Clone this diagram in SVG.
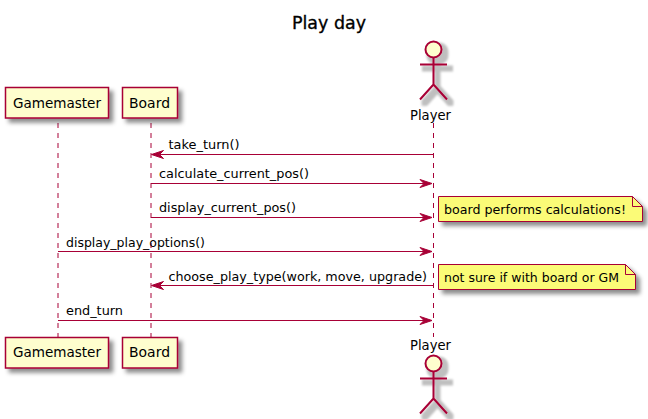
<svg xmlns="http://www.w3.org/2000/svg" width="648" height="419" viewBox="0 0 648 419">
<style>
text{font-family:"DejaVu Sans",sans-serif;font-size:13px;fill:#000}
.title{font-size:18px;stroke:#000;stroke-width:.35}
.part{font-size:14px}
.life{stroke:#A80036;stroke-width:1;stroke-dasharray:5 5;fill:none}
.box{fill:#FEFECE;stroke:#A80036;stroke-width:1.5}
.note{fill:#FBFB77;stroke:#A80036;stroke-width:1}
.actor{fill:none;stroke:#A80036;stroke-width:2}
.head{fill:#FEFECE;stroke:#A80036;stroke-width:2}
.msg{stroke:#A80036;stroke-width:1;fill:none}
.arrow{fill:#A80036;stroke:#A80036;stroke-width:1}
.sh{filter:url(#shadow)}
.sha{filter:url(#shadow-a)}
</style>
<defs>
<filter id="shadow" x="-30%" y="-30%" width="170%" height="170%">
<feGaussianBlur in="SourceAlpha" stdDeviation="2"/>
<feColorMatrix type="matrix" values="0 0 0 0 0 0 0 0 0 0 0 0 0 0 0 0 0 0 0.45 0"/>
<feOffset dx="4" dy="4" result="s"/>
<feMerge><feMergeNode in="s"/><feMergeNode in="SourceGraphic"/></feMerge>
</filter>
<filter id="shadow-a" x="-50%" y="-30%" width="220%" height="170%">
<feMorphology in="SourceAlpha" operator="dilate" radius="1.500"/>
<feGaussianBlur stdDeviation="1.200"/>
<feColorMatrix type="matrix" values="0 0 0 0 0 0 0 0 0 0 0 0 0 0 0 0 0 0 0.25 0"/>
<feOffset dx="4" dy="4" result="s"/>
<feMerge><feMergeNode in="s"/><feMergeNode in="SourceGraphic"/></feMerge>
</filter>
<polygon id="ah-r" points="-12,-4 0,0 -12,4 -8,0" class="arrow"/>
<polygon id="ah-l" points="12,-4 0,0 12,4 8,0" class="arrow"/>
<g id="stick"><circle class="head" cx="0" cy="0" r="8"/><path class="actor" d="M0 8V35M-13.500 15H13.500M0 35L-13.500 50M0 35L13.500 50"/></g>
</defs>
<text class="title" x="292" y="29" textLength="74" lengthAdjust="spacingAndGlyphs">Play day</text>
<g id="lifelines" class="lifelines">
<line class="life" x1="58" y1="123" x2="58" y2="337"/>
<line class="life" x1="151" y1="123" x2="151" y2="337"/>
<line class="life" x1="433.500" y1="123" x2="433.500" y2="337"/>
</g>
<g id="gamemaster-top"><rect class="box sh" x="5.500" y="87.500" width="103" height="30.500"/><text class="part" x="13" y="108" textLength="88" lengthAdjust="spacingAndGlyphs">Gamemaster</text></g>
<g id="board-top"><rect class="box sh" x="122.500" y="87.500" width="55" height="30.500"/><text class="part" x="129" y="108" textLength="41" lengthAdjust="spacingAndGlyphs">Board</text></g>
<g id="player-top"><g class="sha"><use href="#stick" x="433.500" y="49.500"/></g><text class="part" x="410" y="120" textLength="41" lengthAdjust="spacingAndGlyphs">Player</text></g>
<g id="gamemaster-bottom"><rect class="box sh" x="5.500" y="337.500" width="103" height="30.500"/><text class="part" x="13" y="357" textLength="88" lengthAdjust="spacingAndGlyphs">Gamemaster</text></g>
<g id="board-bottom"><rect class="box sh" x="122.500" y="337.500" width="55" height="30.500"/><text class="part" x="129" y="357" textLength="41" lengthAdjust="spacingAndGlyphs">Board</text></g>
<g id="player-bottom"><text class="part" x="410" y="350" textLength="41" lengthAdjust="spacingAndGlyphs">Player</text><g class="sha"><use href="#stick" x="433.500" y="363.500"/></g></g>
<g id="connectors">
<line class="msg" x1="160" y1="154.500" x2="433" y2="154.500"/><use href="#ah-l" x="151.500" y="154.500"/>
<text x="168.500" y="149" textLength="71" lengthAdjust="spacingAndGlyphs">take_turn()</text>
<line class="msg" x1="151" y1="183.500" x2="424" y2="183.500"/><use href="#ah-r" x="432" y="183.500"/>
<text x="159" y="178" textLength="150" lengthAdjust="spacingAndGlyphs">calculate_current_pos()</text>
<line class="msg" x1="151" y1="217.500" x2="424" y2="217.500"/><use href="#ah-r" x="432" y="217.500"/>
<text x="159" y="212" textLength="137" lengthAdjust="spacingAndGlyphs">display_current_pos()</text>
<line class="msg" x1="58" y1="251.500" x2="424" y2="251.500"/><use href="#ah-r" x="432" y="251.500"/>
<text x="66" y="247" textLength="139" lengthAdjust="spacingAndGlyphs">display_play_options()</text>
<line class="msg" x1="160" y1="285.500" x2="433" y2="285.500"/><use href="#ah-l" x="151.500" y="285.500"/>
<text x="168.500" y="281" textLength="258.500" lengthAdjust="spacingAndGlyphs">choose_play_type(work, move, upgrade)</text>
<line class="msg" x1="58" y1="320.500" x2="424" y2="320.500"/><use href="#ah-r" x="432" y="320.500"/>
<text x="66" y="315" textLength="57" lengthAdjust="spacingAndGlyphs">end_turn</text>
</g>
<g id="note-calculations"><path class="note sh" d="M438.500 196.500H632.500L642.500 206.500V221.500H438.500Z"/><path class="note" style="fill:none" d="M632.500 196.500V206.500H642.500"/><text x="444" y="214" textLength="182" lengthAdjust="spacingAndGlyphs">board performs calculations!</text></g>
<g id="note-unsure"><path class="note sh" d="M438.500 264.500H625.500L635.500 274.500V289.500H438.500Z"/><path class="note" style="fill:none" d="M625.500 264.500V274.500H635.500"/><text x="444" y="282" textLength="175" lengthAdjust="spacingAndGlyphs">not sure if with board or GM</text></g>
</svg>
